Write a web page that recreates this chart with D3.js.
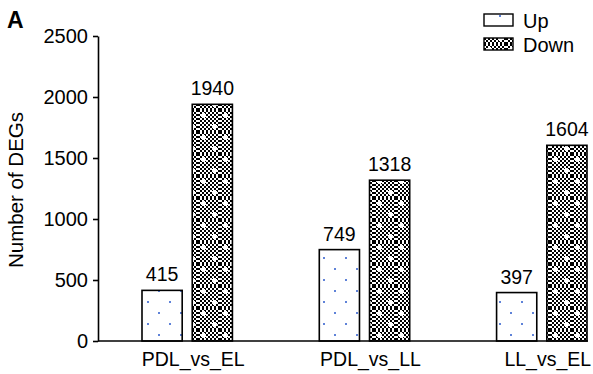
<!DOCTYPE html>
<html><head><meta charset="utf-8">
<script src="https://cdn.jsdelivr.net/npm/d3@7"></script>
<style>body{margin:0;background:#fff}svg{display:block}text{font-family:"Liberation Sans",Arial,sans-serif;fill:#000}</style>
</head><body><svg id="c" width="593" height="374"></svg>
<script>
const categories = ["PDL_vs_EL", "PDL_vs_LL", "LL_vs_EL"];
const seriesNames = ["Up", "Down"];
const upValues = [415, 749, 397];
const downValues = [1940, 1318, 1604];
const yTicks = [0, 500, 1000, 1500, 2000, 2500];

const svg = d3.select("#c");
const defs = svg.append("defs");

// Up pattern: white with sparse blue dots
const pu = defs.append("pattern").attr("id","pUp").attr("patternUnits","userSpaceOnUse")
  .attr("width",22).attr("height",22);
pu.append("rect").attr("width",22).attr("height",22).attr("fill","#fff");
[[4,4],[15,15]].forEach(([x,y])=>{
  pu.append("rect").attr("x",x).attr("y",y).attr("width",2).attr("height",2).attr("fill","#5f82d8");
});

// Down pattern: checkerboard with white crosses
const pd = defs.append("pattern").attr("id","pDown").attr("patternUnits","userSpaceOnUse")
  .attr("width",22).attr("height",22);
pd.append("rect").attr("width",22).attr("height",22).attr("fill","#fff");
for(let i=0;i<11;i++) for(let j=0;j<11;j++) if((i+j)%2===0)
  pd.append("rect").attr("x",i*2).attr("y",j*2).attr("width",2).attr("height",2).attr("fill","#000");
[[5,5],[16,16]].forEach(([x,y])=>{
  pd.append("rect").attr("x",x-2).attr("y",y-1).attr("width",5).attr("height",3).attr("fill","#fff");
  pd.append("rect").attr("x",x-1).attr("y",y-2).attr("width",3).attr("height",5).attr("fill","#fff");
});

const x0 = 98, yBase = 341;
const y = d3.scaleLinear().domain([0,2500]).range([yBase,36]);
const xg = d3.scaleBand().domain(categories).range([142,587]).paddingInner(0.49).paddingOuter(0);
const xs = d3.scaleBand().domain(seriesNames).range([0,xg.bandwidth()]).paddingInner(0.2);

const data = categories.map((c,i)=>({cat:c, vals:[{s:"Up",v:upValues[i]},{s:"Down",v:downValues[i]}]}));

// bars
const g = svg.append("g");
data.forEach(d=>{
  d.vals.forEach(b=>{
    const bx = xg(d.cat)+xs(b.s);
    g.append("rect").attr("x",bx).attr("y",y(b.v)).attr("width",xs.bandwidth()).attr("height",yBase-y(b.v))
      .attr("fill",b.s==="Up"?"url(#pUp)":"url(#pDown)").attr("stroke","#000").attr("stroke-width",1.6);
    g.append("text").attr("x",bx+xs.bandwidth()/2).attr("y",y(b.v)-9).attr("text-anchor","middle")
      .attr("font-size",19.5).text(b.v);
  });
});

// y axis
const ya = svg.append("g").attr("transform",`translate(${x0},0)`)
  .call(d3.axisLeft(y).tickValues(yTicks).tickFormat(d3.format("d")).tickSize(5).tickPadding(5).tickSizeOuter(0));
ya.select(".domain").attr("stroke","#000").attr("stroke-width",1.6);
ya.selectAll(".tick line").attr("stroke","#000").attr("stroke-width",1.6);
ya.selectAll(".tick text").attr("font-size",20).attr("font-family","Liberation Sans, Arial, sans-serif").attr("fill","#000");

// x axis line
svg.append("line").attr("x1",x0).attr("x2",588).attr("y1",yBase).attr("y2",yBase).attr("stroke","#000").attr("stroke-width",1.6);

// x labels
categories.forEach(c=>{
  svg.append("text").attr("x",xg(c)+xg.bandwidth()/2+6).attr("y",366).attr("text-anchor","middle")
    .attr("font-size",19.5).text(c);
});

// y title
svg.append("text").attr("transform","translate(23,190) rotate(-90)").attr("text-anchor","middle")
  .attr("font-size",20.5).text("Number of DEGs");

// panel label
svg.append("text").attr("x",7).attr("y",28).attr("font-size",23).attr("font-weight","bold").text("A");

// legend
const lg = svg.append("g");
seriesNames.forEach((s,i)=>{
  lg.append("rect").attr("x",484).attr("y",14+i*24).attr("width",29).attr("height",12)
    .attr("fill",s==="Up"?"url(#pUp)":"url(#pDown)").attr("stroke","#000").attr("stroke-width",1.4);
  lg.append("text").attr("x",523).attr("y",28+i*24).attr("font-size",20).text(s);
});
</script></body></html>
